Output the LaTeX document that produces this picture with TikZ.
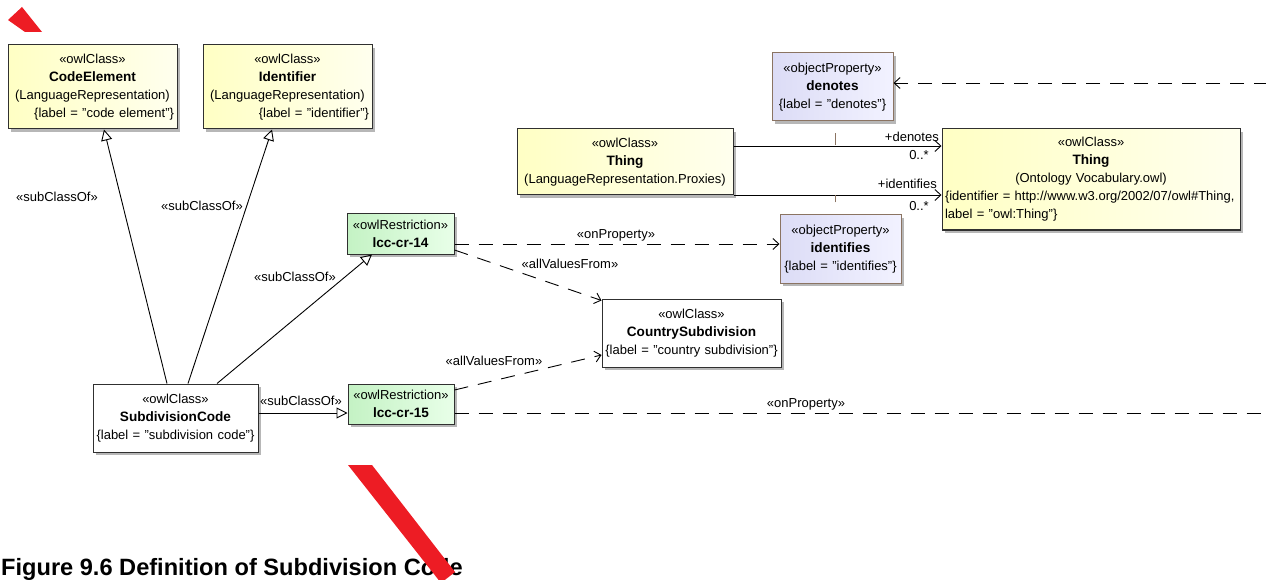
\documentclass[tikz,border=0pt]{standalone}
\usepackage{fontspec}
\setmainfont{Liberation Sans}
\usetikzlibrary{arrows.meta,shadows}

\definecolor{boxline}{HTML}{303030}
\definecolor{classyl}{HTML}{FFFFC4}
\definecolor{classylend}{HTML}{FFFFEE}
\definecolor{proplav}{HTML}{DCDCF6}
\definecolor{proplavend}{HTML}{F2F2FF}
\definecolor{propline}{HTML}{8B7462}
\definecolor{restrgr}{HTML}{C4F2C4}
\definecolor{restrgrend}{HTML}{E8FFE8}
\definecolor{redmark}{HTML}{ED1C24}

\newcommand{\boxname}[1]{{\fontsize{13.6}{18}\selectfont\bfseries #1}}

\tikzset{
  umlbox/.style={draw=boxline, line width=1pt, inner xsep=3pt, inner ysep=2pt,
    align=center, font=\fontsize{13}{18}\selectfont,
    drop shadow={shadow xshift=3pt, shadow yshift=-3pt, fill=black!40, opacity=0.7}},
  classbox/.style={umlbox, left color=classyl, right color=classylend},
  plainbox/.style={umlbox, fill=white},
  propbox/.style={umlbox, draw=propline, left color=proplav, right color=proplavend},
  restrbox/.style={umlbox, left color=restrgr, right color=restrgrend},
  lbl/.style={font=\fontsize{13}{15}\selectfont, inner sep=1pt},
  gen/.style={line width=0.9pt, -{Triangle[open,length=11pt,width=11pt]}},
  dep/.style={line width=0.9pt, dash pattern=on 14pt off 10pt, -{Straight Barb[length=6pt,width=11pt]}},
  assocarrow/.style={line width=0.9pt, -{Straight Barb[length=6pt,width=11pt]}},
  assocclass/.style={draw=propline, line width=0.9pt, dash pattern=on 12pt off 12pt, dash phase=12pt},
}

\begin{document}
\begin{tikzpicture}[x=1pt,y=-1pt]
\useasboundingbox (0,0) rectangle (1266,580);

% classes
\node[classbox, text width=163pt, minimum height=84pt] (codeel) at (92.5,87)
  {«owlClass»\\\boxname{CodeElement}\\(LanguageRepresentation)\\\mbox{}\hfill\{label = "code element"\}};
\node[classbox, text width=163pt, minimum height=84pt] (ident) at (287.5,87)
  {«owlClass»\\\boxname{Identifier}\\(LanguageRepresentation)\\\mbox{}\hfill\{label = "identifier"\}};
\node[classbox, text width=210pt, minimum height=66pt] (proxy) at (625,162)
  {«owlClass»\\\boxname{Thing}\\(LanguageRepresentation.Proxies)};
\node[classbox, text width=292pt, minimum height=101pt] (thingov) at (1091,179.5)
  {«owlClass»\\\boxname{Thing}\\(Ontology Vocabulary.owl)\\\{identifier = http://www.w3.org/2002/07/owl\#Thing,\hfill\mbox{}\\label = "owl:Thing"\}\hfill\mbox{}};
\node[plainbox, text width=159pt, minimum height=68pt] (subcode) at (175.5,418)
  {«owlClass»\\\boxname{SubdivisionCode}\\\{label = "subdivision code"\}};
\node[plainbox, text width=173pt, minimum height=68pt] (countrysub) at (691.5,333)
  {«owlClass»\\\boxname{CountrySubdivision}\\\{label = "country subdivision"\}};

% properties and restrictions
\node[propbox, text width=115pt, minimum height=68pt] (denotes) at (832.5,87)
  {«objectProperty»\\\boxname{denotes}\\\{label = "denotes"\}};
\node[propbox, text width=115pt, minimum height=68pt] (identifies) at (840.5,249)
  {«objectProperty»\\\boxname{identifies}\\\{label = "identifies"\}};
\node[restrbox, text width=101pt, minimum height=40pt] (lcc14) at (400.5,234)
  {«owlRestriction»\\\boxname{lcc-cr-14}};
\node[restrbox, text width=100pt, minimum height=40pt] (lcc15) at (401,404)
  {«owlRestriction»\\\boxname{lcc-cr-15}};

\coordinate (offR1) at (1268,83);
\coordinate (offR2) at (1268,413);
\coordinate (assocA) at (835,146);
\coordinate (assocB) at (835,195);

% subClassOf
\draw[gen] ([xshift=-8.5pt]subcode.north) -- ([xshift=11.5pt]codeel.south);
\draw[gen] ([xshift=12.5pt]subcode.north) -- ([xshift=-15.5pt]ident.south);
\draw[gen] ([xshift=41.5pt]subcode.north) -- ([xshift=-28.5pt]lcc14.south);
\draw[gen] ([yshift=5pt]subcode.east) -- ([yshift=-9pt]lcc15.west);
\node[lbl] (subA) at (57,197) {«subClassOf»};
\node[lbl] (subB) at (202,206) {«subClassOf»};
\node[lbl] (subC) at (295,277) {«subClassOf»};
\node[lbl] (subD) at (301,401) {«subClassOf»};

% restrictions
\draw[dep] ([yshift=-10pt]lcc14.east) -- ([yshift=5pt]identifies.west);
\draw[dep] ([yshift=-16pt]lcc14.east) -- ([yshift=-2pt]countrysub.north west);
\draw[dep] ([yshift=14pt]lcc15.east) -- ([yshift=-22pt]countrysub.west);
\draw[line width=0.9pt, dash pattern=on 14pt off 10pt] ([yshift=-9pt]lcc15.east) -- (offR2);
\draw[dep] (offR1) -- ([yshift=4pt]denotes.east);
\node[lbl] (onpA) at (616,235) {«onProperty»};
\node[lbl] (avfA) at (570,264) {«allValuesFrom»};
\node[lbl] (avfB) at (494,361) {«allValuesFrom»};
\node[lbl] (onpB) at (806,404) {«onProperty»};

% associations
\draw[assocarrow] ([yshift=16pt]proxy.east) -- ([yshift=33.5pt]thingov.west);
\draw[assocarrow] ([yshift=-33pt]proxy.east) -- ([yshift=-15.5pt]thingov.west);
\draw[assocclass] (denotes.south -| assocA) -- (assocA);
\draw[assocclass] (identifies.north -| assocB) -- (assocB);
\node[lbl, anchor=east] (roleA) at (940,137) {+denotes};
\node[lbl] (multA) at (919,155) {0..*};
\node[lbl, anchor=east] (roleB) at (938,184) {+identifies};
\node[lbl] (multB) at (919,206) {0..*};

\node[anchor=base west, inner sep=0pt, font=\fontsize{23.6}{26}\selectfont\bfseries] (caption) at (1,575)
  {Figure 9.6 Definition of Subdivision Code};

% red marks
\fill[redmark] (8,20) -- (22,7) -- (42,32) -- (25,32) -- cycle;
\fill[redmark] (348,465) -- (372,465) -- (455,572) -- (441,583) -- cycle;
\end{tikzpicture}
\end{document}
